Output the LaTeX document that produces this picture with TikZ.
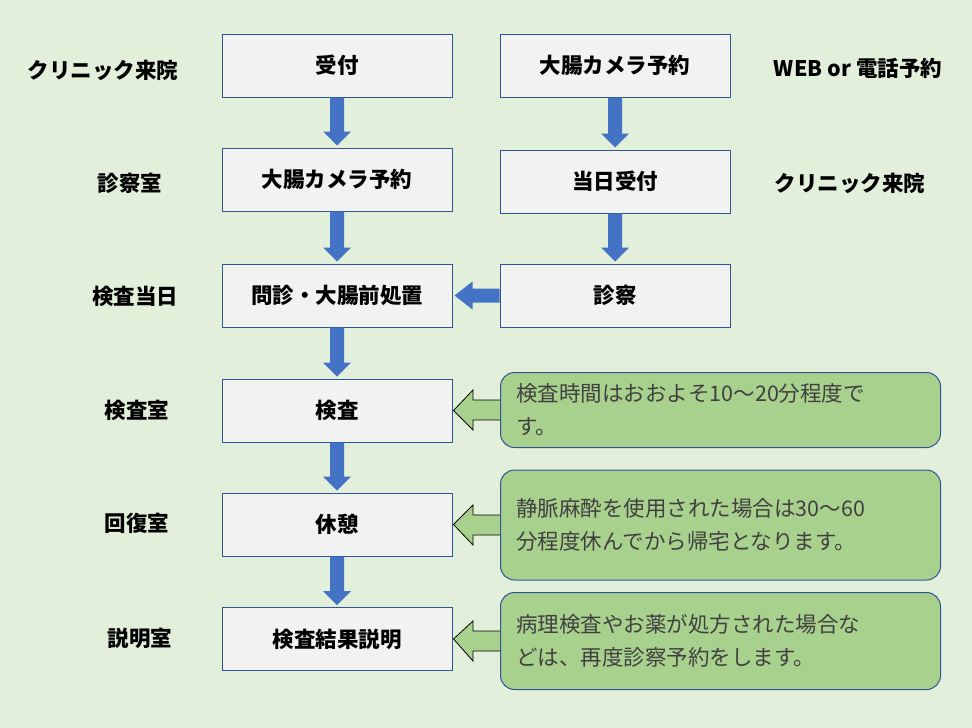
\documentclass[tikz,border=0pt]{standalone}
\usepackage{fontspec}
\newfontfamily\jp{Noto Sans CJK JP}
\usetikzlibrary{positioning}
\definecolor{bg}{HTML}{E2EFDA}
\definecolor{bx}{HTML}{F2F2F2}
\definecolor{bd}{HTML}{2F5597}
\definecolor{ar}{HTML}{4472C4}
\definecolor{cg}{HTML}{A9D18E}
\begin{document}
\begin{tikzpicture}[x=1pt,y=-1pt,
  box/.style={draw=bd,fill=bx,line width=1pt,minimum width=230pt,minimum height=63pt,font=\jp\bfseries\fontsize{21.5}{24}\selectfont,inner sep=0pt},
  lab/.style={font=\jp\bfseries\fontsize{21.5}{24}\selectfont,inner sep=0pt},
  call/.style={draw=bd,fill=cg,line width=1pt,rounded corners=14pt,inner sep=0pt},
  ctext/.style={font=\jp\fontsize{21.5}{33}\selectfont,text=black!75,align=left,anchor=west,inner sep=0pt},
]
\fill[bg] (0,0) rectangle (972,728);
\useasboundingbox (0,0) rectangle (972,728);
\node[box] (a1) at (337,65.5) {受付};
\node[box] (a2) at (337,179.5) {大腸カメラ予約};
\node[box] (a3) at (337,295.5) {問診・大腸前処置};
\node[box] (a4) at (337,410.5) {検査};
\node[box] (a5) at (337,524.5) {休憩};
\node[box] (a6) at (337,639) {検査結果説明};
\node[box] (b1) at (615,65.5) {大腸カメラ予約};
\node[box] (b2) at (615,181.5) {当日受付};
\node[box] (b3) at (615,295.5) {診察};
\node[lab] (l1) at (103,70) {クリニック来院};
\node[lab] (l2) at (130,183) {診察室};
\node[lab] (l3) at (135,296) {検査当日};
\node[lab] (l4) at (137,410) {検査室};
\node[lab] (l5) at (137,523) {回復室};
\node[lab] (l6) at (140,638) {説明室};
\node[lab] (r1) at (858,68) {WEB or 電話予約};
\node[lab] (r2) at (850,183) {クリニック来院};
% down arrows
\foreach \u/\v in {a1/a2,a2/a3,a3/a4,a4/a5,a5/a6,b1/b2,b2/b3}{
  \path (\u.south) coordinate (s) (\v.north) coordinate (e);
  \fill[ar] ([xshift=-7pt]s) -- ([xshift=7pt]s) -- ([xshift=7pt,yshift=16pt]e) -- ([xshift=14pt,yshift=16pt]e) -- ([yshift=2pt]e) -- ([xshift=-14pt,yshift=16pt]e) -- ([xshift=-7pt,yshift=16pt]e) -- cycle;
}
% left arrow b3 -> a3
\path (b3.west) coordinate (s) (a3.east) coordinate (e);
\fill[ar] ([yshift=-7pt]s) -- ([yshift=7pt]s) -- ([xshift=20pt,yshift=7pt]e) -- ([xshift=20pt,yshift=14pt]e) -- ([xshift=2pt]e) -- ([xshift=20pt,yshift=-14pt]e) -- ([xshift=20pt,yshift=-7pt]e) -- cycle;
% callouts
\foreach \n/\yc/\h/\t/\tgt in {c1/410/75/{検査時間はおおよそ10〜20分程度で\\す。}/a4, c2/525/110/{静脈麻酔を使用された場合は30〜60\\分程度休んでから帰宅となります。}/a5, c3/641/97/{病理検査やお薬が処方された場合な\\どは、再度診察予約をします。}/a6}{
  \path (\tgt.east) coordinate (t);
  \filldraw[fill=cg,draw=black,line width=0.8pt] (503,\yc-10) -- (473,\yc-10) -- (473,\yc-20) -- ([xshift=1pt]t) -- (473,\yc+20) -- (473,\yc+10) -- (503,\yc+10);
  \node[call,minimum width=440pt,minimum height=\h pt,anchor=west] (\n) at (500,\yc) {};
  \node[ctext] at (516,\yc) {\t};
}
\end{tikzpicture}
\end{document}
